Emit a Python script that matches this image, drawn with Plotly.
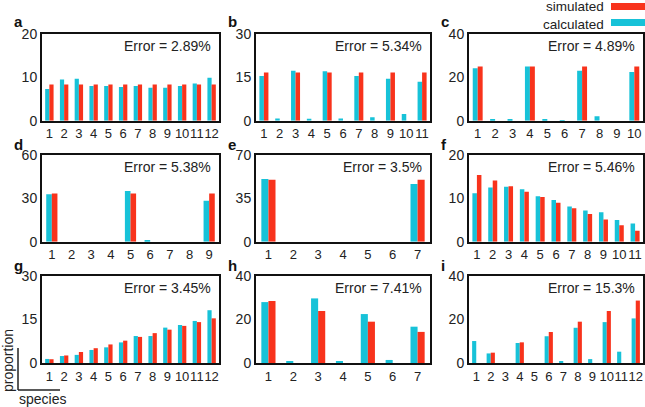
import plotly.graph_objects as go

# ---- data ----
panel_letters = ["a", "b", "c", "d", "e", "f", "g", "h", "i"]
errors = ["2.89%", "5.34%", "4.89%", "5.38%", "3.5%", "5.46%", "3.45%", "7.41%", "15.3%"]
y_max = [20, 30, 40, 60, 70, 20, 30, 40, 40]

calc_a = [7.3, 9.5, 9.7, 8.0, 8.0, 7.8, 8.0, 7.6, 7.6, 8.0, 8.6, 9.9]
sim_a = [8.33] * 12
calc_b = [15.5, 0.8, 17.3, 0.7, 17.1, 0.8, 15.5, 1.2, 14.5, 2.3, 13.5]
sim_b = [16.67, 0, 16.67, 0, 16.67, 0, 16.67, 0, 16.67, 0, 16.67]
calc_c = [24.2, 0.5, 0.5, 25.0, 0.5, 0.3, 23.0, 2.0, 0, 22.5]
sim_c = [25, 0, 0, 25, 0, 0, 25, 0, 0, 25]
calc_d = [32.8, 0, 0, 0, 35.1, 1.2, 0, 0, 28.4]
sim_d = [33.3, 0, 0, 0, 33.3, 0, 0, 0, 33.3]
calc_e = [50.6, 0, 0, 0, 0, 0, 46.6]
sim_e = [50, 0, 0, 0, 0, 0, 50]
calc_f = [11.2, 12.5, 12.7, 12.1, 10.5, 9.6, 8.1, 7.2, 6.8, 5.0, 4.2]
sim_f = [15.4, 14.1, 12.8, 11.5, 10.3, 9.0, 7.7, 6.4, 5.1, 3.8, 2.5]
calc_g = [1.4, 2.4, 2.8, 4.5, 5.4, 7.1, 9.3, 9.3, 12.2, 13.1, 14.5, 18.2]
sim_g = [1.3, 2.6, 3.8, 5.1, 6.4, 7.7, 9.0, 10.3, 11.5, 12.8, 14.1, 15.4]
calc_h = [28.0, 0.9, 29.7, 0.9, 22.5, 1.4, 16.7]
sim_h = [28.5, 0, 23.9, 0, 19.0, 0, 14.3]
calc_i = [10.1, 4.4, 0, 9.2, 0, 12.3, 0.9, 16.2, 1.8, 18.8, 5.2, 20.5]
sim_i = [0, 4.75, 0, 9.5, 0, 14.25, 0, 19.0, 0, 23.9, 0, 28.7]

calculated = [calc_a, calc_b, calc_c, calc_d, calc_e, calc_f, calc_g, calc_h, calc_i]
simulated = [sim_a, sim_b, sim_c, sim_d, sim_e, sim_f, sim_g, sim_h, sim_i]

# ---- style ----
W, H = 645, 407
CYAN = "#17C2D8"
RED = "#F8331C"
FONT = "Liberation Sans, Arial, sans-serif"

col_px = [(42, 219), (256, 430), (469, 643)]
row_px = [(34, 120.7), (155, 241.7), (276, 363)]

fig = go.Figure()
annotations = []
shapes = []

for k in range(9):
    r, c = divmod(k, 3)
    n = len(calculated[k])
    cats = list(range(1, n + 1))
    ax = "" if k == 0 else str(k + 1)
    fig.add_trace(go.Bar(x=cats, y=calculated[k], marker=dict(color=CYAN, line=dict(width=0)),
                         xaxis="x" + ax, yaxis="y" + ax, showlegend=False, name="calculated"))
    fig.add_trace(go.Bar(x=cats, y=simulated[k], marker=dict(color=RED, line=dict(width=0)),
                         xaxis="x" + ax, yaxis="y" + ax, showlegend=False, name="simulated"))
    x0, x1 = col_px[c]
    y0, y1 = row_px[r]
    mid = y_max[k] / 2
    xa = dict(domain=[x0 / W, x1 / W], anchor="y" + ax, range=[0.5, n + 0.5],
              tickmode="array", tickvals=cats, ticktext=[str(v) for v in cats], tickangle=0,
              showline=True, mirror=True, linecolor="#111", linewidth=2, automargin=False,
              ticks="", showgrid=False, zeroline=False,
              tickfont=dict(family=FONT, size=13, color="#222"), fixedrange=True)
    ya = dict(domain=[1 - y1 / H, 1 - y0 / H], anchor="x" + ax, range=[0, y_max[k]],
              tickmode="array", tickvals=[0, mid, y_max[k]],
              ticktext=["0", f"{mid:g}", str(y_max[k])], automargin=False,
              showline=True, mirror=True, linecolor="#111", linewidth=2,
              ticks="", showgrid=False, zeroline=False,
              tickfont=dict(family=FONT, size=14, color="#222"), fixedrange=True)
    fig.update_layout({"xaxis" + ax: xa, "yaxis" + ax: ya})
    annotations.append(dict(x=(x1 - 6) / W, y=1 - (y0 + 12) / H, xref="paper", yref="paper",
                            text="Error = " + errors[k], showarrow=False, xanchor="right",
                            yanchor="middle", font=dict(family=FONT, size=14, color="#222")))
    lx = [12, 226, 439][c]
    ly = [21, 144, 265][r]
    annotations.append(dict(x=lx / W, y=1 - ly / H, xref="paper", yref="paper",
                            text="<b>" + panel_letters[k] + "</b>", showarrow=False,
                            xanchor="left", yanchor="middle",
                            font=dict(family=FONT, size=15, color="#111")))

# legend (text left of swatch)
annotations.append(dict(x=605 / W, y=1 - 15 / H, xref="paper", yref="paper",
                        text="simulated<br>calculated", align="right", borderpad=0,
                        showarrow=False, xanchor="right", yanchor="middle",
                        font=dict(family=FONT, size=13.5, color="#222")))
for color, yy in [(RED, 6.5), (CYAN, 22.5)]:
    shapes.append(dict(type="rect", xref="paper", yref="paper", x0=611 / W, x1=645 / W,
                       y0=1 - (yy + 3.5) / H, y1=1 - (yy - 3.5) / H,
                       fillcolor=color, line=dict(width=0)))

# proportion / species scale indicator
shapes.append(dict(type="line", xref="paper", yref="paper", x0=18 / W, x1=18 / W,
                   y0=1 - 348 / H, y1=1 - 390 / H, line=dict(color="#222", width=1.5)))
shapes.append(dict(type="line", xref="paper", yref="paper", x0=18 / W, x1=60 / W,
                   y0=1 - 390 / H, y1=1 - 390 / H, line=dict(color="#222", width=1.5)))
annotations.append(dict(x=8 / W, y=1 - 361 / H, xref="paper", yref="paper", text="proportion",
                        textangle=-90, showarrow=False, xanchor="center", yanchor="middle",
                        font=dict(family=FONT, size=14, color="#222")))
annotations.append(dict(x=17 / W, y=1 - 399 / H, xref="paper", yref="paper", text="species",
                        showarrow=False, xanchor="left", yanchor="middle",
                        font=dict(family=FONT, size=14, color="#222")))

fig.update_layout(width=W, height=H, margin=dict(l=0, r=0, t=0, b=0, autoexpand=False),
                  paper_bgcolor="white", plot_bgcolor="white",
                  barmode="group", bargap=0.43, bargroupgap=0,
                  annotations=annotations, shapes=shapes, showlegend=False)

fig.write_html("out.html", config={"displayModeBar": False},
               post_script="document.documentElement.style.margin='0';"
                           "document.body.style.margin='0';document.body.style.padding='0';"
                           "document.documentElement.style.overflow='hidden';"
                           "document.body.style.overflow='hidden';"
                           "var gd=document.getElementById('{plot_id}');"
                           "gd.style.position='fixed';gd.style.left='0px';gd.style.top='0px';")
